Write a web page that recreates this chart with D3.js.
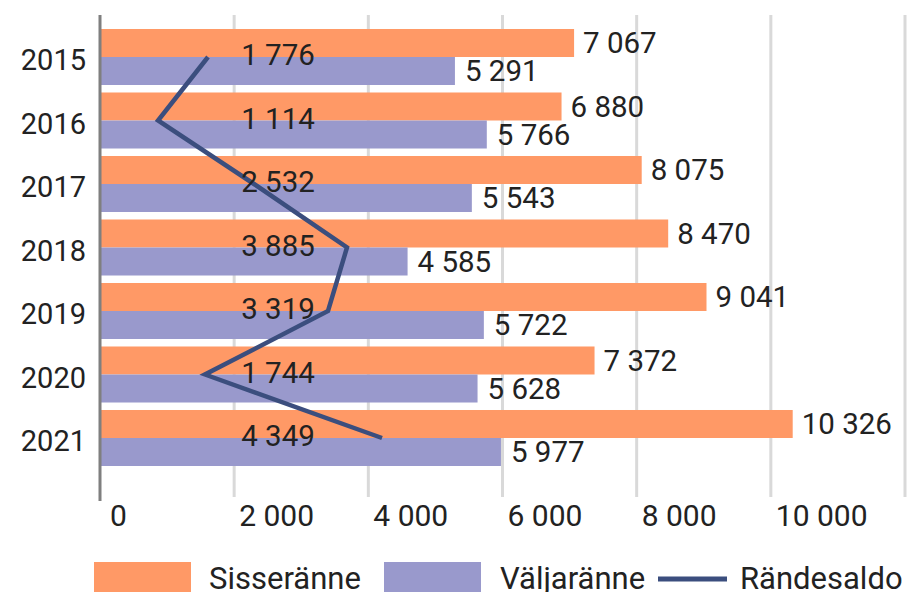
<!DOCTYPE html>
<html>
<head>
<meta charset="utf-8">
<script src="https://cdn.jsdelivr.net/npm/d3@7"></script>
<style>
  body { margin: 0; background: #fff; }
  text { font-family: Roboto, "Noto Sans", sans-serif; fill: #222; }
</style>
</head>
<body>
<script>
// data
var years = ["2015", "2016", "2017", "2018", "2019", "2020", "2021"];
var sisseranne = [7067, 6880, 8075, 8470, 9041, 7372, 10326];
var valjaranne = [5291, 5766, 5543, 4585, 5722, 5628, 5977];
var randesaldo = [1776, 1114, 2532, 3885, 3319, 1744, 4349];
// where the saldo line is actually drawn in the picture (it doesn't sit on the label values)
var saldoLine = [1610, 865, 2296, 3682, 3399, 1565, 4204];
var ticks = [0, 2000, 4000, 6000, 8000, 10000, 12000];

var W = 907, H = 592;
var fmt = d3.formatLocale({decimal: ",", thousands: " ", grouping: [3], currency: ["", ""]}).format(",d");

var svg = d3.select("body").append("svg")
	.attr("width", W)
	.attr("height", H);

var x = d3.scaleLinear().domain([0, 12000]).range([100, 905]);
var y = d3.scaleBand().domain(years).range([25.25, 469.75])
	.paddingInner(0.118).paddingOuter(0.059);
var bh = y.bandwidth() / 2;

// gridlines
svg.selectAll("line.grid")
	.data(ticks.slice(1))
	.enter().append("line")
		.attr("class", "grid")
		.attr("x1", function(d){ return x(d); })
		.attr("x2", function(d){ return x(d); })
		.attr("y1", 15)
		.attr("y2", 497)
		.attr("stroke", "#d9d9d9")
		.attr("stroke-width", 3);

// bars
svg.selectAll("rect.sis")
	.data(sisseranne)
	.enter().append("rect")
		.attr("class", "sis")
		.attr("x", x(0))
		.attr("y", function(d,i){ return y(years[i]); })
		.attr("width", function(d){ return x(d) - x(0); })
		.attr("height", bh)
		.attr("fill", "#ff9966");

svg.selectAll("rect.val")
	.data(valjaranne)
	.enter().append("rect")
		.attr("class", "val")
		.attr("x", x(0))
		.attr("y", function(d,i){ return y(years[i]) + bh; })
		.attr("width", function(d){ return x(d) - x(0); })
		.attr("height", bh)
		.attr("fill", "#9999cc");

// left axis line
svg.append("line")
	.attr("x1", x(0)).attr("x2", x(0))
	.attr("y1", 15).attr("y2", 501)
	.attr("stroke", "#7f7f7f")
	.attr("stroke-width", 3);

// bar value labels
svg.selectAll("text.sisLab")
	.data(sisseranne)
	.enter().append("text")
		.attr("class", "sisLab")
		.attr("x", function(d){ return x(d) + 9; })
		.attr("y", function(d,i){ return y(years[i]) + bh / 2; })
		.attr("dy", "0.35em")
		.style("font-size", "29.5px")
		.text(function(d){ return fmt(d); });

svg.selectAll("text.valLab")
	.data(valjaranne)
	.enter().append("text")
		.attr("class", "valLab")
		.attr("x", function(d){ return x(d) + 10; })
		.attr("y", function(d,i){ return y(years[i]) + bh * 1.5; })
		.attr("dy", "0.35em")
		.style("font-size", "29.5px")
		.text(function(d){ return fmt(d); });

// saldo line
var line = d3.line()
	.x(function(d){ return x(d); })
	.y(function(d,i){ return y(years[i]) + y.bandwidth() / 2; });

svg.append("path")
	.datum(saldoLine)
	.attr("d", line)
	.attr("fill", "none")
	.attr("stroke", "#3b4e7e")
	.attr("stroke-width", 4.5);

svg.selectAll("text.saldoLab")
	.data(randesaldo)
	.enter().append("text")
		.attr("class", "saldoLab")
		.attr("x", 278)
		.attr("y", function(d,i){ return y(years[i]) + y.bandwidth() / 2 - 2; })
		.attr("dy", "0.35em")
		.attr("text-anchor", "middle")
		.style("font-size", "29.5px")
		.text(function(d){ return fmt(d); });

// year labels
svg.selectAll("text.year")
	.data(years)
	.enter().append("text")
		.attr("class", "year")
		.attr("x", 86)
		.attr("y", function(d){ return y(d) + y.bandwidth() / 2 + 3; })
		.attr("dy", "0.35em")
		.attr("text-anchor", "end")
		.style("font-size", "29px")
		.text(function(d){ return d; });

// x tick labels
svg.selectAll("text.tick")
	.data(ticks.slice(0, 6))
	.enter().append("text")
		.attr("class", "tick")
		.attr("x", function(d){ return x(d) + (d == 0 ? 10 : 5); })
		.attr("y", 515)
		.attr("dy", "0.35em")
		.style("font-size", "30px")
		.text(function(d){ return fmt(d); });

// legend
var leg = svg.append("g");
leg.append("rect").attr("x", 94).attr("y", 562).attr("width", 97).attr("height", 32).attr("fill", "#ff9966");
leg.append("text").attr("x", 209).attr("y", 589).style("font-size", "31px").text("Sisseränne");
leg.append("rect").attr("x", 384).attr("y", 562).attr("width", 97).attr("height", 32).attr("fill", "#9999cc");
leg.append("text").attr("x", 500).attr("y", 589).style("font-size", "31px").text("Väljaränne");
leg.append("line").attr("x1", 658).attr("x2", 727).attr("y1", 579).attr("y2", 579)
	.attr("stroke", "#3b4e7e").attr("stroke-width", 5);
leg.append("text").attr("x", 740).attr("y", 589).style("font-size", "31px").text("Rändesaldo");
</script>
</body>
</html>
